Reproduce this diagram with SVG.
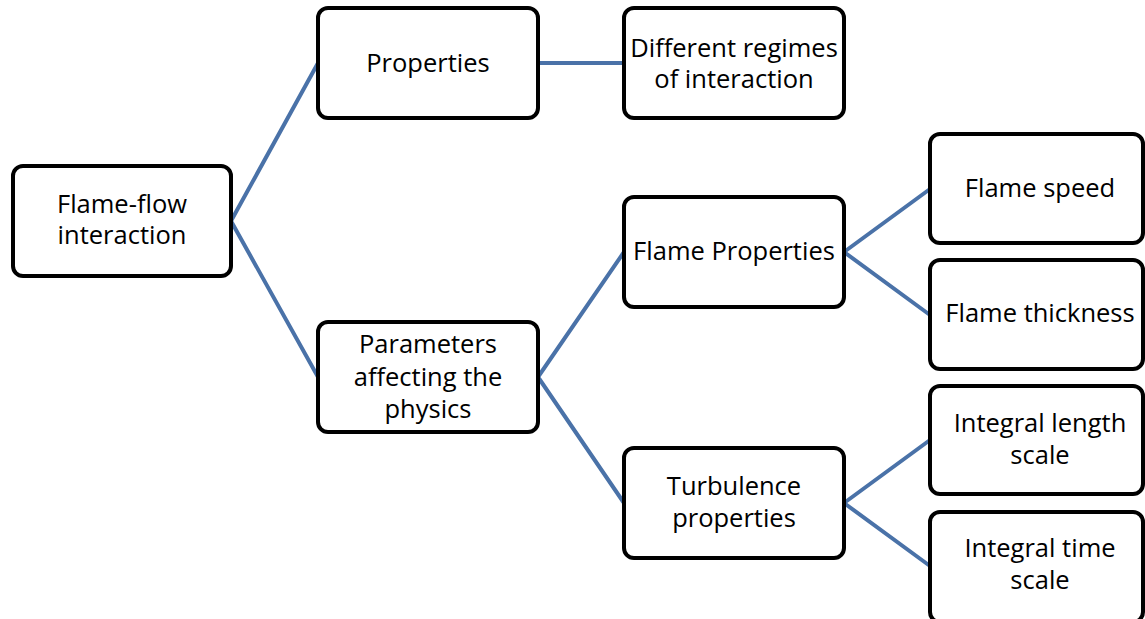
<svg xmlns="http://www.w3.org/2000/svg" width="1145" height="619" viewBox="0 0 1145 619">
<style>
.box{fill:#fff;stroke:#000;stroke-width:4}
.t{font-family:"Open Sans","Noto Sans","Liberation Sans",sans-serif;font-size:25.5px;fill:#000;text-anchor:middle;font-variant-ligatures:none}
.c{stroke:#4a72a8;stroke-width:4;fill:none}
</style>
<rect width="1145" height="619" fill="#fff"/>
<g id="connectors">
<path class="c" d="M231 221 L318 63 M231 221 L318 377"/>
<path class="c" d="M538 63 L624 63"/>
<path class="c" d="M538 377 L624 252 M538 377 L624 503"/>
<path class="c" d="M844 252 L930 189 M844 252 L930 315"/>
<path class="c" d="M844 503 L930 440 M844 503 L930 566"/>
</g>
<g id="n1"><rect class="box" x="13" y="166" width="218" height="110" rx="10"/><text class="t" x="122" y="213">Flame-flow</text><text class="t" x="122" y="244">interaction</text></g>
<g id="n2"><rect class="box" x="318" y="8" width="220" height="110" rx="10"/><text class="t" x="428" y="72">Properties</text></g>
<g id="n3"><rect class="box" x="624" y="8" width="220" height="110" rx="10"/><text class="t" x="734" y="57">Different regimes</text><text class="t" x="734" y="88">of interaction</text></g>
<g id="n4"><rect class="box" x="318" y="322" width="220" height="110" rx="10"/><text class="t" x="428" y="353">Parameters</text><text class="t" x="428" y="386">affecting the</text><text class="t" x="428" y="418">physics</text></g>
<g id="n5"><rect class="box" x="624" y="197" width="220" height="110" rx="10"/><text class="t" x="734" y="260">Flame Properties</text></g>
<g id="n6"><rect class="box" x="624" y="448" width="220" height="110" rx="10"/><text class="t" x="734" y="495">Turbulence</text><text class="t" x="734" y="527">properties</text></g>
<g id="n7"><rect class="box" x="930" y="134" width="213" height="109" rx="10"/><text class="t" x="1040" y="197">Flame speed</text></g>
<g id="n8"><rect class="box" x="930" y="260" width="213" height="109" rx="10"/><text class="t" x="1040" y="322">Flame thickness</text></g>
<g id="n9"><rect class="box" x="930" y="386" width="213" height="108" rx="10"/><text class="t" x="1040" y="432">Integral length</text><text class="t" x="1040" y="464">scale</text></g>
<g id="n10"><rect class="box" x="930" y="512" width="213" height="110" rx="10"/><text class="t" x="1040" y="557">Integral time</text><text class="t" x="1040" y="589">scale</text></g>
</svg>
